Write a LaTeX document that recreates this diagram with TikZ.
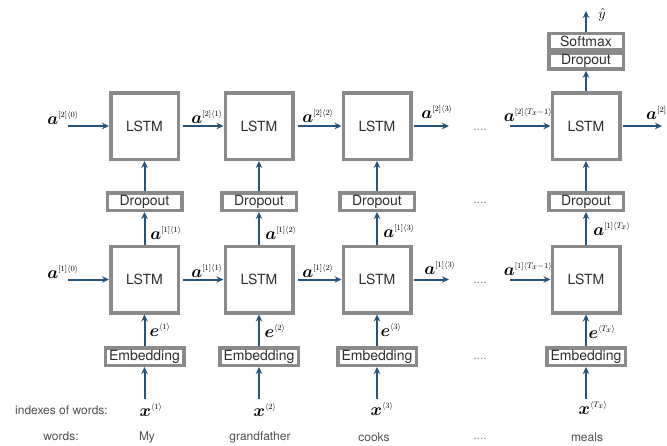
\documentclass[tikz,border=0pt]{standalone}
\usepackage{amsmath}
\usepackage{fontspec}
\setmainfont{TeX Gyre Heros}
\usetikzlibrary{arrows.meta}
\definecolor{boxgray}{RGB}{138,138,138}
\definecolor{arrblue}{RGB}{38,84,122}
\definecolor{txt}{RGB}{45,45,45}
\definecolor{wordc}{RGB}{80,80,80}
\newcommand{\lbl}[3]{$\boldsymbol{#1}^{\scriptscriptstyle #2\langle #3\rangle}$}
\tikzset{
  lstm/.style={draw=boxgray, line width=3.5pt, minimum width=67.5pt, minimum height=66.5pt, inner sep=0pt, font=\fontsize{14}{14}\selectfont, text=txt},
  thinbox/.style={draw=boxgray, line width=3.5pt, minimum width=74.5pt, minimum height=17.5pt, inner sep=0pt, font=\fontsize{14}{14}\selectfont, text=txt},
  embbox/.style={thinbox, minimum width=78.5pt},
  arr/.style={-{Stealth[length=7pt,width=6.5pt]}, line width=2pt, draw=arrblue},
  lab/.style={inner sep=0pt, text=black, font=\fontsize{17}{17}\selectfont},
  wordt/.style={font=\fontsize{12}{12}\selectfont, text=wordc, inner sep=0pt},
  dotst/.style={font=\fontsize{12}{12}\selectfont, text=gray, inner sep=0pt},
}
\begin{document}
\begin{tikzpicture}[x=1pt,y=-1pt]
\useasboundingbox (0,0) rectangle (667,445);
% columns
\foreach \n/\cx in {1/144.5,2/259,3/377,4/586}{
  \node[lstm] (T\n) at (\cx,126) {LSTM};
  \node[thinbox] (D\n) at (\cx,201.5) {Dropout};
  \node[lstm] (B\n) at (\cx,279.5) {LSTM};
  \node[embbox] (E\n) at (\cx,356.5) {Embedding};
  \coordinate (XS\n) at (\cx,399);
  \draw[arr] (XS\n) -- (E\n.south);
  \draw[arr] (E\n.north) -- (B\n.south);
  \draw[arr] (B\n.north) -- (D\n.south);
  \draw[arr] (D\n.north) -- (T\n.south);
}
% softmax stack
\node[thinbox, minimum height=16pt] (SD) at (586,61) {Dropout};
\node[thinbox, minimum height=16pt] (SM) at (586,41.5) {Softmax};
\coordinate (YH) at (586,11);
\draw[arr] (T4.north) -- (SD.south);
\draw[arr] (SM.north) -- (YH);
\node[lab, font=\fontsize{15}{15}\selectfont] (yhat) at (602,15) {$\hat{y}$};

% top row horizontal
\coordinate (TL) at (68,126);
\coordinate (TR3) at (449,126);
\coordinate (TL4) at (510,126);
\coordinate (TR4) at (662,126);
\draw[arr] (TL) -- (T1.west);
\draw[arr, shorten <=3pt] (T1.east) -- (T2.west);
\draw[arr, shorten <=3pt] (T2.east) -- (T3.west);
\draw[arr, shorten <=1pt] (T3.east) -- (TR3);
\draw[arr] (TL4) -- (T4.west);
\draw[arr, shorten <=1pt] (T4.east) -- (TR4);
\node[lab] (la20) at (63,118) {\lbl{a}{[2]}{0}};
\node[lab] (la21) at (207,117) {\lbl{a}{[2]}{1}};
\node[lab] (la22) at (318,116) {\lbl{a}{[2]}{2}};
\node[lab] (la23) at (437,112) {\lbl{a}{[2]}{3}};
\node[lab] (la2T1) at (528,115) {\lbl{a}{[2]}{T_x-1}};
\node[lab, anchor=west] (la2T) at (646,113) {\lbl{a}{[2]}{T_x}};

% bottom row horizontal
\coordinate (BL) at (68,279.5);
\coordinate (BR3) at (449,279.5);
\coordinate (BL4) at (510,279.5);
\draw[arr] (BL) -- (B1.west);
\draw[arr, shorten <=3pt] (B1.east) -- (B2.west);
\draw[arr, shorten <=3pt] (B2.east) -- (B3.west);
\draw[arr, shorten <=1pt] (B3.east) -- (BR3);
\draw[arr] (BL4) -- (B4.west);
\node[lab] (la10) at (63,272) {\lbl{a}{[1]}{0}};
\node[lab] (la11) at (207,271) {\lbl{a}{[1]}{1}};
\node[lab] (la12) at (318,271) {\lbl{a}{[1]}{2}};
\node[lab] (la13) at (440,268) {\lbl{a}{[1]}{3}};
\node[lab] (la1T1) at (528,269) {\lbl{a}{[1]}{T_x-1}};

% vertical labels
\node[lab] (v11) at (166,233) {\lbl{a}{[1]}{1}};
\node[lab] (v12) at (281,233) {\lbl{a}{[1]}{2}};
\node[lab] (v13) at (399,231) {\lbl{a}{[1]}{3}};
\node[lab] (v14) at (612,229) {\lbl{a}{[1]}{T_x}};
\node[lab] (e1) at (160,330) {\lbl{e}{}{1}};
\node[lab] (e2) at (275,331) {\lbl{e}{}{2}};
\node[lab] (e3) at (391,330) {\lbl{e}{}{3}};
\node[lab] (e4) at (602,332) {\lbl{e}{}{T_x}};
\node[lab] (x1) at (151,410) {\lbl{x}{}{1}};
\node[lab] (x2) at (265,410) {\lbl{x}{}{2}};
\node[lab] (x3) at (382,409) {\lbl{x}{}{3}};
\node[lab] (x4) at (593,408) {\lbl{x}{}{T_x}};

% dots
\foreach \yy [count=\i] in {130,203,283,359,439}{
  \node[dotst] (dots\i) at (480,\yy) {....};
}

% row labels and words
\node[wordt, anchor=east] (idx) at (108,410) {indexes of words:};
\node[wordt] (wds) at (61,436) {words:};
\node[wordt] (w1) at (147,437) {My};
\node[wordt] (w2) at (260,437) {grandfather};
\node[wordt] (w3) at (374,437) {cooks};
\node[wordt] (w4) at (587,437) {meals};
\end{tikzpicture}
\end{document}
